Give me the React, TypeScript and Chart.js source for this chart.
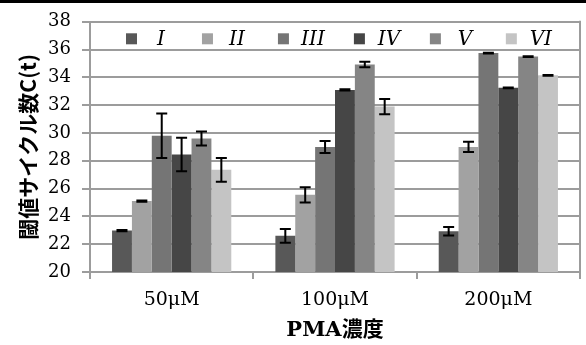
import React, { useEffect, useRef } from "react";
import { Chart, registerables } from "chart.js";

Chart.register(...registerables);

const categories = ["50μM", "100μM", "200μM"];
const seriesNames = ["I", "II", "III", "IV", "V", "VI"];
const seriesColors = ["#585858", "#a2a2a2", "#757575", "#464646", "#858585", "#c4c4c4"];

const valuesI = [22.98, 22.6, 22.93];
const valuesII = [25.1, 25.55, 29.0];
const valuesIII = [29.8, 29.0, 35.75];
const valuesIV = [28.45, 33.1, 33.25];
const valuesV = [29.6, 34.93, 35.5];
const valuesVI = [27.35, 31.9, 34.15];

const errorsI = [0.05, 0.5, 0.3];
const errorsII = [0.05, 0.55, 0.37];
const errorsIII = [1.6, 0.43, 0.03];
const errorsIV = [1.2, 0.05, 0.03];
const errorsV = [0.5, 0.2, 0.03];
const errorsVI = [0.85, 0.55, 0.03];

const yMin = 20;
const yMax = 38;
const yStep = 2;

const allValues = [valuesI, valuesII, valuesIII, valuesIV, valuesV, valuesVI];
const allErrors = [errorsI, errorsII, errorsIII, errorsIV, errorsV, errorsVI];

const GRID = "#9c9c9c";

const errorBarPlugin = {
  id: "errorBars",
  afterDatasetsDraw(chart: any) {
    const ctx = chart.ctx;
    const yScale = chart.scales.y;
    ctx.save();
    ctx.strokeStyle = "#000";
    ctx.lineWidth = 2;
    chart.data.datasets.forEach((ds: any, i: number) => {
      const meta = chart.getDatasetMeta(i);
      meta.data.forEach((el: any, j: number) => {
        const v = ds.data[j];
        const e = ds.errors[j];
        const yt = yScale.getPixelForValue(v + e);
        const yb = yScale.getPixelForValue(v - e);
        const x = el.x;
        const hw = 5.5;
        ctx.beginPath();
        ctx.moveTo(x, yt);
        ctx.lineTo(x, yb);
        ctx.moveTo(x - hw, yt);
        ctx.lineTo(x + hw, yt);
        ctx.moveTo(x - hw, yb);
        ctx.lineTo(x + hw, yb);
        ctx.stroke();
      });
    });
    ctx.restore();
  },
};

const frameLegendPlugin = {
  id: "frameLegend",
  afterDraw(chart: any) {
    const ctx = chart.ctx;
    const a = chart.chartArea;
    ctx.save();
    ctx.strokeStyle = GRID;
    ctx.lineWidth = 2;
    ctx.beginPath();
    ctx.moveTo(a.right, a.top - 1);
    ctx.lineTo(a.right, a.bottom);
    ctx.stroke();

    const step = (a.right - a.left) / 6.45;
    const cy = a.top + 17;
    const box = 11;
    ctx.font = "italic 20px 'DejaVu Serif'";
    ctx.textAlign = "center";
    ctx.textBaseline = "middle";
    chart.data.datasets.forEach((ds: any, i: number) => {
      const sx = a.left + 36 + i * step;
      ctx.fillStyle = ds.backgroundColor;
      ctx.fillRect(sx, cy - box / 2, box, box);
      ctx.fillStyle = "#000";
      ctx.fillText(ds.label, sx + 35, cy + 1);
    });
    ctx.restore();
  },
};

export default function App() {
  const ref = useRef<HTMLCanvasElement | null>(null);

  useEffect(() => {
    document.body.style.margin = "0";
    const canvas = ref.current;
    if (!canvas) return;
    const chart = new Chart(canvas, {
      type: "bar",
      data: {
        labels: categories,
        datasets: seriesNames.map((name, i) => ({
          label: name,
          data: allValues[i],
          errors: allErrors[i],
          backgroundColor: seriesColors[i],
          borderWidth: 0,
          categoryPercentage: 0.73,
          barPercentage: 1.0,
        })) as any,
      },
      options: {
        animation: false,
        responsive: false,
        devicePixelRatio: 1,
        layout: { padding: { top: 14, right: 6, left: 0, bottom: 0 } },
        plugins: {
          legend: { display: false },
          tooltip: { enabled: false },
        },
        scales: {
          x: {
            afterFit: (s: any) => {
              s.height = 73;
            },
            grid: {
              drawOnChartArea: false,
              drawTicks: true,
              tickLength: 7,
              color: GRID,
              lineWidth: 2,
              offset: true,
            },
            border: { color: GRID, width: 2 },
            ticks: {
              color: "#000",
              padding: 10,
              font: { family: "'DejaVu Serif'", size: 19 },
            },
            title: {
              display: true,
              text: "PMA濃度",
              color: "#000",
              padding: { top: 0, bottom: 2 },
              font: { family: "'DejaVu Serif', 'Noto Sans CJK JP'", size: 21, weight: "bold" },
            },
          },
          y: {
            min: yMin,
            max: yMax,
            afterFit: (s: any) => {
              s.width = 90;
            },
            ticks: {
              stepSize: yStep,
              color: "#000",
              padding: 11,
              font: { family: "'DejaVu Serif'", size: 18 },
            },
            grid: {
              color: GRID,
              lineWidth: 2,
              tickLength: 8,
              drawTicks: true,
            },
            border: { color: GRID, width: 2 },
            title: {
              display: true,
              text: "閾値サイクル数C(t)",
              color: "#000",
              padding: { top: 15, bottom: 0 },
              font: { family: "'Noto Sans CJK JP'", size: 21, weight: "bold" },
            },
          },
        },
      },
      plugins: [errorBarPlugin, frameLegendPlugin],
    } as any);
    return () => chart.destroy();
  }, []);

  return (
    <div style={{ position: "absolute", left: 0, top: 0, width: 586, height: 345, background: "#fff" }}>
      <canvas ref={ref} width={586} height={345} style={{ position: "absolute", left: 0, top: 0 }} />
      <div style={{ position: "absolute", left: 0, top: 0, width: 586, height: 3, background: "#000" }} />
    </div>
  );
}
